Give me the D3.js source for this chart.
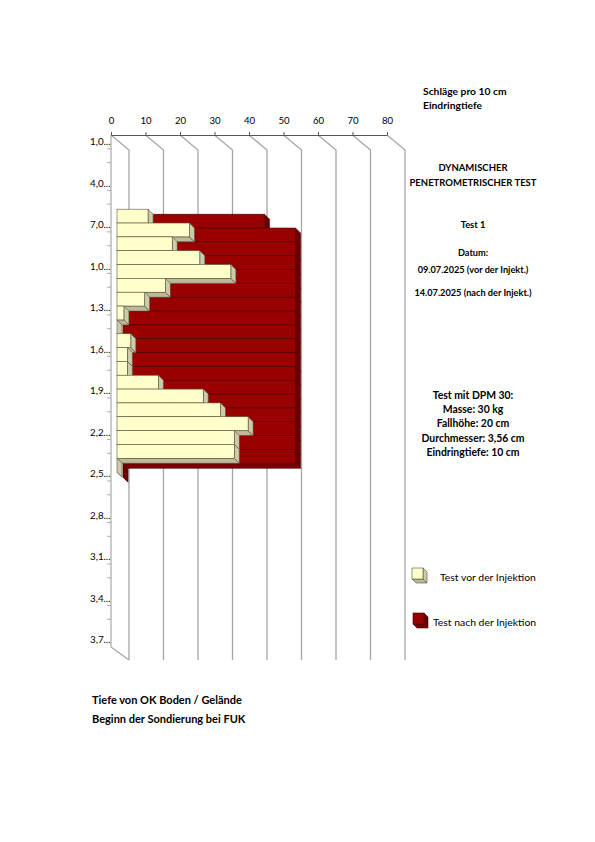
<!DOCTYPE html>
<html><head><meta charset="utf-8">
<script src="https://cdn.jsdelivr.net/npm/d3@7"></script>
<style>
body{margin:0;background:#fff}
svg text{font-family:Lato,"Open Sans","Liberation Sans",sans-serif;fill:#000}
</style>
</head><body>
<svg id="chart" width="595" height="842"></svg>
<script>
// ---- data ----
const depths = [0.1,0.2,0.3,0.4,0.5,0.6,0.7,0.8,0.9,1.0,1.1,1.2,1.3,1.4,1.5,1.6,1.7,1.8,1.9,2.0,
                2.1,2.2,2.3,2.4,2.5,2.6,2.7,2.8,2.9,3.0,3.1,3.2,3.3,3.4,3.5,3.6,3.7];
const depthLabels = ["1,0...","4,0...","7,0...","1,0...","1,3...","1,6...","1,9...","2,2...","2,5...","2,8...","3,1...","3,4...","3,7..."];
const valueTicks = [0,10,20,30,40,50,60,70,80];
const vorInjektion = [null,null,null,null,null,9,21,16,24,33,14,8,2,0,4,3,3,12,25,30,38,34,34,0,
                      null,null,null,null,null,null,null,null,null,null,null,null,null];
const nachInjektion = [null,null,null,null,null,41,50,50,50,50,50,50,50,50,50,50,50,50,50,50,50,50,50,0,
                       null,null,null,null,null,null,null,null,null,null,null,null,null];
const seriesNames = ["Test vor der Injektion","Test nach der Injektion"];

// ---- layout ----
const svg = d3.select("#chart");
const x = d3.scaleLinear().domain([0,80]).range([111,387]);
const y = d3.scaleBand().domain(depths).range([135,647]).paddingInner(0).paddingOuter(0);
const wall = {dx:18, dy:15};
const series = [
  {vals: nachInjektion, off:{dx:12,dy:10}, th:{dx:5,dy:5},
   front:"#990000", side:"#6a0000", bottom:"#7a0000", stroke:"#4a0000"},
  {vals: vorInjektion, off:{dx:6,dy:5}, th:{dx:5,dy:5},
   front:"#ffffcc", side:"#cfcbaa", bottom:"#bdb99a", stroke:"#555540"}
];

// gridlines on back wall
const grid = svg.append("g");
valueTicks.forEach(v => {
  grid.append("path")
    .attr("d", `M${x(v)},135 L${x(v)+wall.dx},${135+wall.dy} L${x(v)+wall.dx},660`)
    .attr("fill","none").attr("stroke","#a6a6a6").attr("stroke-width",1.3);
});
grid.append("path").attr("d",`M${x(0)},647 L${x(0)+wall.dx},660`)
  .attr("fill","none").attr("stroke","#a6a6a6").attr("stroke-width",1.3);

// vertical category axis
const axisG = svg.append("g");
axisG.append("line").attr("x1",x(0)).attr("x2",x(0)).attr("y1",135).attr("y2",647)
  .attr("stroke","#999").attr("stroke-width",1);
depths.forEach((d,i) => {
  if (i % 3 === 0) {
    axisG.append("text").attr("x",110.5).attr("y",y(d)+y.bandwidth()/2+3.3)
      .attr("text-anchor","end").attr("font-size",9.8).text(depthLabels[i/3]);
  } else {
    axisG.append("line").attr("x1",x(0)-4).attr("x2",x(0)).attr("y1",y(d)).attr("y2",y(d))
      .attr("stroke","#999").attr("stroke-width",0.8);
  }
});

// top value axis
const topAxis = svg.append("g").attr("transform","translate(0,135)")
  .call(d3.axisTop(x).tickValues(valueTicks).tickSize(3).tickSizeOuter(0).tickPadding(8));
topAxis.select(".domain").attr("stroke","#555");
topAxis.selectAll(".tick line").attr("stroke","#555");
topAxis.selectAll(".tick text").attr("font-size",9.6).attr("font-family","Lato, sans-serif").attr("fill","#000");

// bars
function bar3d(g, x0, x1, yt, yb, th, s) {
  g.append("polygon").attr("points",[[x0,yb],[x1,yb],[x1+th.dx,yb+th.dy],[x0+th.dx,yb+th.dy]].join(" "))
    .attr("fill",s.bottom).attr("stroke",s.stroke).attr("stroke-width",0.6).attr("stroke-linejoin","round");
  g.append("polygon").attr("points",[[x1,yt],[x1+th.dx,yt+th.dy],[x1+th.dx,yb+th.dy],[x1,yb]].join(" "))
    .attr("fill",s.side).attr("stroke",s.stroke).attr("stroke-width",0.6).attr("stroke-linejoin","round");
  if (x1 > x0)
    g.append("rect").attr("x",x0).attr("y",yt).attr("width",x1-x0).attr("height",yb-yt)
      .attr("fill",s.front).attr("stroke",s.stroke).attr("stroke-width",0.6);
}
const barsG = svg.append("g");
series.forEach(s => {
  depths.forEach((d,i) => {
    const v = s.vals[i];
    if (v === null) return;
    const x0 = x(0)+s.off.dx, x1 = x(v)+s.off.dx;
    const yt = y(d)+s.off.dy, yb = y(d)+y.bandwidth()+s.off.dy;
    bar3d(barsG, x0, x1, yt, yb, s.th, s);
  });
});

// texts
function txt(t, xx, yy, size, bold, anchor) {
  svg.append("text").attr("x",xx).attr("y",yy).attr("font-size",size)
    .attr("font-weight",bold?"bold":"normal").attr("text-anchor",anchor||"start").text(t);
}
txt("Schläge pro 10 cm",423,95,10.3,true);
txt("Eindringtiefe",423,108.5,10.3,true);
const cx = 473;
txt("DYNAMISCHER",cx,171,9.5,true,"middle");
txt("PENETROMETRISCHER TEST",cx,185.5,9.5,true,"middle");
txt("Test 1",cx,227.5,9.3,true,"middle");
txt("Datum:",cx,256,9.2,true,"middle");
txt("09.07.2025 (vor der Injekt.)",cx,272.5,9.2,true,"middle");
txt("14.07.2025 (nach der Injekt.)",cx,295.5,9.2,true,"middle");
["Test mit DPM 30:","Masse: 30 kg","Fallhöhe: 20 cm","Durchmesser: 3,56 cm","Eindringtiefe: 10 cm"]
  .forEach((t,i)=>txt(t,cx,398.5+i*14.4,10.4,true,"middle"));
txt("Tiefe von OK Boden / Gelände",92,704,11,true);
txt("Beginn der Sondierung bei FUK",92,723,11,true);

// legend
const leg = [
  {name: seriesNames[0], s: series[1], bx:412, by:568, tx:440, ty:581},
  {name: seriesNames[1], s: series[0], bx:413, by:613, tx:433, ty:626}
];
leg.forEach(l => {
  bar3d(svg.append("g"), l.bx, l.bx+11, l.by, l.by+11, {dx:4,dy:4}, l.s);
  txt(l.name, l.tx, l.ty, 10.4, false);
});
</script>
</body></html>
